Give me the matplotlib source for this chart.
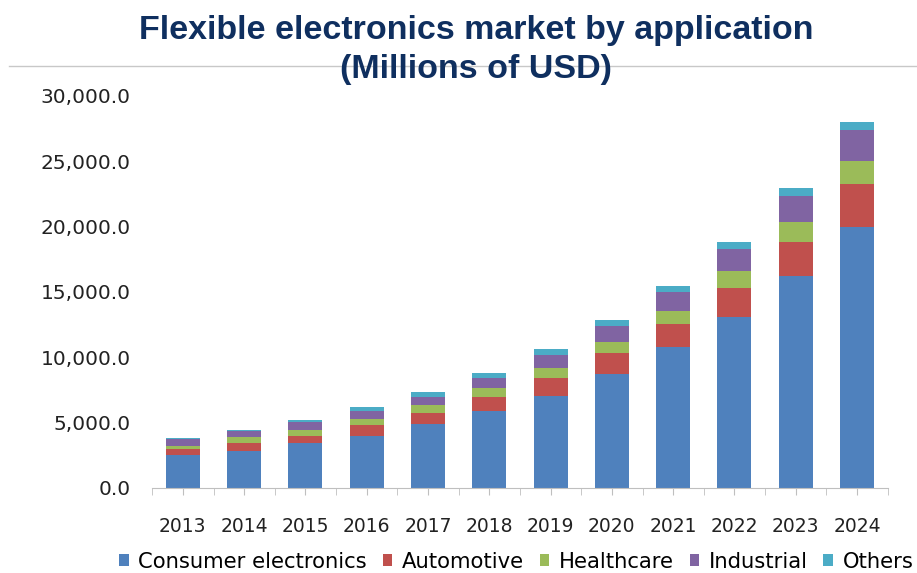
import matplotlib.pyplot as plt
import numpy as np
from matplotlib.ticker import FuncFormatter, FixedLocator

years = ["2013", "2014", "2015", "2016", "2017", "2018",
         "2019", "2020", "2021", "2022", "2023", "2024"]

consumer = [2490, 2800, 3380, 3950, 4870, 5860, 7030, 8670, 10740, 13090, 16210, 19990]
automotive = [440, 590, 540, 870, 870, 1050, 1330, 1610, 1760, 2220, 2630, 3270]
healthcare = [280, 460, 460, 460, 570, 690, 770, 890, 1040, 1300, 1490, 1790]
industrial = [540, 460, 640, 610, 610, 770, 1020, 1180, 1460, 1640, 2040, 2330]
others = [80, 100, 130, 310, 410, 430, 440, 460, 440, 580, 610, 610]

series = [
    ("Consumer electronics", consumer, "#4F81BD"),
    ("Automotive", automotive, "#C0504D"),
    ("Healthcare", healthcare, "#9BBB59"),
    ("Industrial", industrial, "#8064A2"),
    ("Others", others, "#4BACC6"),
]

plt.rcParams['font.family'] = ['DejaVu Sans']

fig = plt.figure(figsize=(9.17, 5.73), dpi=100)
ax = fig.add_axes([0.166, 0.149, 0.802, 0.6835])

x = np.arange(len(years))
bottom = np.zeros(len(years))
for name, vals, col in series:
    ax.bar(x, vals, width=0.555, bottom=bottom, color=col, label=name, zorder=2)
    bottom += np.array(vals)

ax.set_xlim(-0.5, len(years) - 0.5)
ax.set_ylim(0, 30000)
ax.set_yticks(range(0, 30001, 5000))
ax.yaxis.set_major_formatter(FuncFormatter(lambda v, p: f"{v:,.1f}"))
ax.tick_params(axis='y', length=0, pad=15.5, labelsize=14.5, labelcolor='#222222')

# category boundaries plus centre marks along the base line
ax.set_xticks(x)
ax.set_xticklabels(years)
ax.xaxis.set_minor_locator(FixedLocator(np.arange(-0.5, len(years), 1.0)))
ax.tick_params(axis='x', which='both', length=5, color='#bfbfbf', direction='out')
ax.tick_params(axis='x', which='major', pad=16.5, labelsize=13.5, labelcolor='#222222')

for s in ['top', 'right', 'left']:
    ax.spines[s].set_visible(False)
ax.spines['bottom'].set_color('#bfbfbf')

title_font = ['Liberation Sans', 'DejaVu Sans']
fig.text(0.519, 0.932, "Flexible electronics market by application",
         ha='center', va='baseline', fontsize=24.5, fontweight='bold',
         color='#0F2F5F', family=title_font)
fig.text(0.519, 0.864, "(Millions of USD)",
         ha='center', va='baseline', fontsize=24.5, fontweight='bold',
         color='#0F2F5F', family=title_font)
fig.add_artist(plt.Line2D([0.01, 1.0], [0.884, 0.884], color='#c8c8c8', lw=1,
                          transform=fig.transFigure, zorder=0))

fig.legend(loc='center', bbox_to_anchor=(0.563, 0.02), ncol=5, frameon=False,
           fontsize=15.2, handlelength=0.45, handleheight=0.45, handletextpad=0.45,
           columnspacing=0.75, borderaxespad=0)

fig.savefig("out.png", dpi=100)
